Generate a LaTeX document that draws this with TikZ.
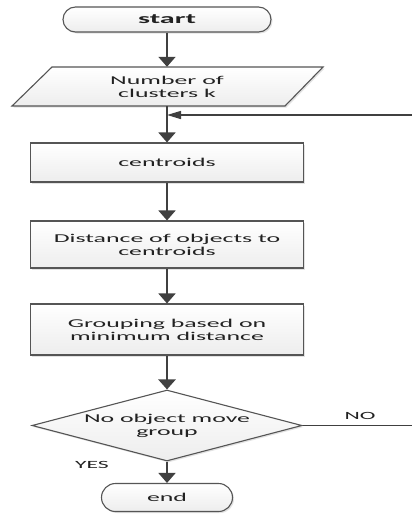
\documentclass[tikz,border=0pt]{standalone}
\usepackage{fontspec}
\setmainfont[FakeStretch=2.15]{Carlito}
\usetikzlibrary{arrows.meta,shapes.geometric,shadows}
\definecolor{edge}{HTML}{555555}
\definecolor{wire}{HTML}{404040}
\definecolor{ink}{HTML}{222222}
\begin{document}
\begin{tikzpicture}[x=1pt,y=1pt,
  every node/.style={text=ink,font=\fontsize{12}{13}\selectfont},
  shapestyle/.style={draw=edge,line width=1.1pt,top color=white,bottom color=gray!14,
     drop shadow={shadow xshift=1.5pt,shadow yshift=-1.5pt,fill=gray!50,opacity=.45}},
  boxnode/.style={shapestyle,rectangle,minimum width=273pt,inner sep=2pt,align=center},
  termnode/.style={shapestyle,rectangle,rounded corners=12.5pt,minimum height=25pt,inner sep=0pt},
  txt/.style={align=center,inner sep=0pt},
  link/.style={draw=wire,line width=1.8pt,-{Triangle[width=17pt,length=10pt]}},
  back/.style={draw=wire,line width=1.4pt},
  lbl/.style={inner sep=0pt,font=\fontsize{11}{12}\selectfont}
]
\useasboundingbox (0,0) rectangle (412,-517);
\fill[white] (0,0) rectangle (412,-517);

\node[termnode,minimum width=208pt,font=\fontsize{14}{15}\bfseries] (start) at (167,-19.5) {start};

% parallelogram
\fill[gray!50,opacity=.45] (13.5,-107.5) -- (286.5,-107.5) -- (324.5,-68.5) -- (53.5,-68.5) -- cycle;
\draw[draw=edge,line width=1.1pt,top color=white,bottom color=gray!14]
  (12,-106) -- (285,-106) -- (323,-67) -- (52,-67) -- cycle;
\node[txt,minimum height=39pt] (num) at (167,-86.5) {Number of\\clusters k};

\node[boxnode,minimum height=39pt] (cen) at (167,-162.5) {centroids};
\node[boxnode,minimum height=47pt] (dist) at (167,-244.5) {Distance of objects to\\centroids};
\node[boxnode,minimum height=51pt] (grp) at (167,-329.5) {Grouping based on\\minimum distance};

\node[shapestyle,diamond,minimum width=270pt,minimum height=71pt,inner sep=0pt] (dia) at (167,-425.5) {};
\node[txt] (diat) at (dia.center) {No object move\\group};

\node[termnode,minimum width=131pt,minimum height=28pt,rounded corners=14pt] (end) at (167,-497.5) {end};

\coordinate (fbin) at (413,-115);
\coordinate (fbout) at (413,-425.5);

\draw[link] (start) -- (num);
\draw[link] (num) -- (cen);
\draw[link] (cen) -- (dist);
\draw[link] (dist) -- (grp);
\draw[link,line width=2.6pt] (grp) -- (dia);
\draw[link] (dia) -- (end);
\draw[back,-{Triangle[width=8pt,length=14pt]}] (fbin) -- (fbin -| num);
\draw[back] (dia.east) -- (fbout);

\node[lbl] (no) at (360,-416) {NO};
\node[lbl] (yes) at (92,-465) {YES};
\end{tikzpicture}
\end{document}
